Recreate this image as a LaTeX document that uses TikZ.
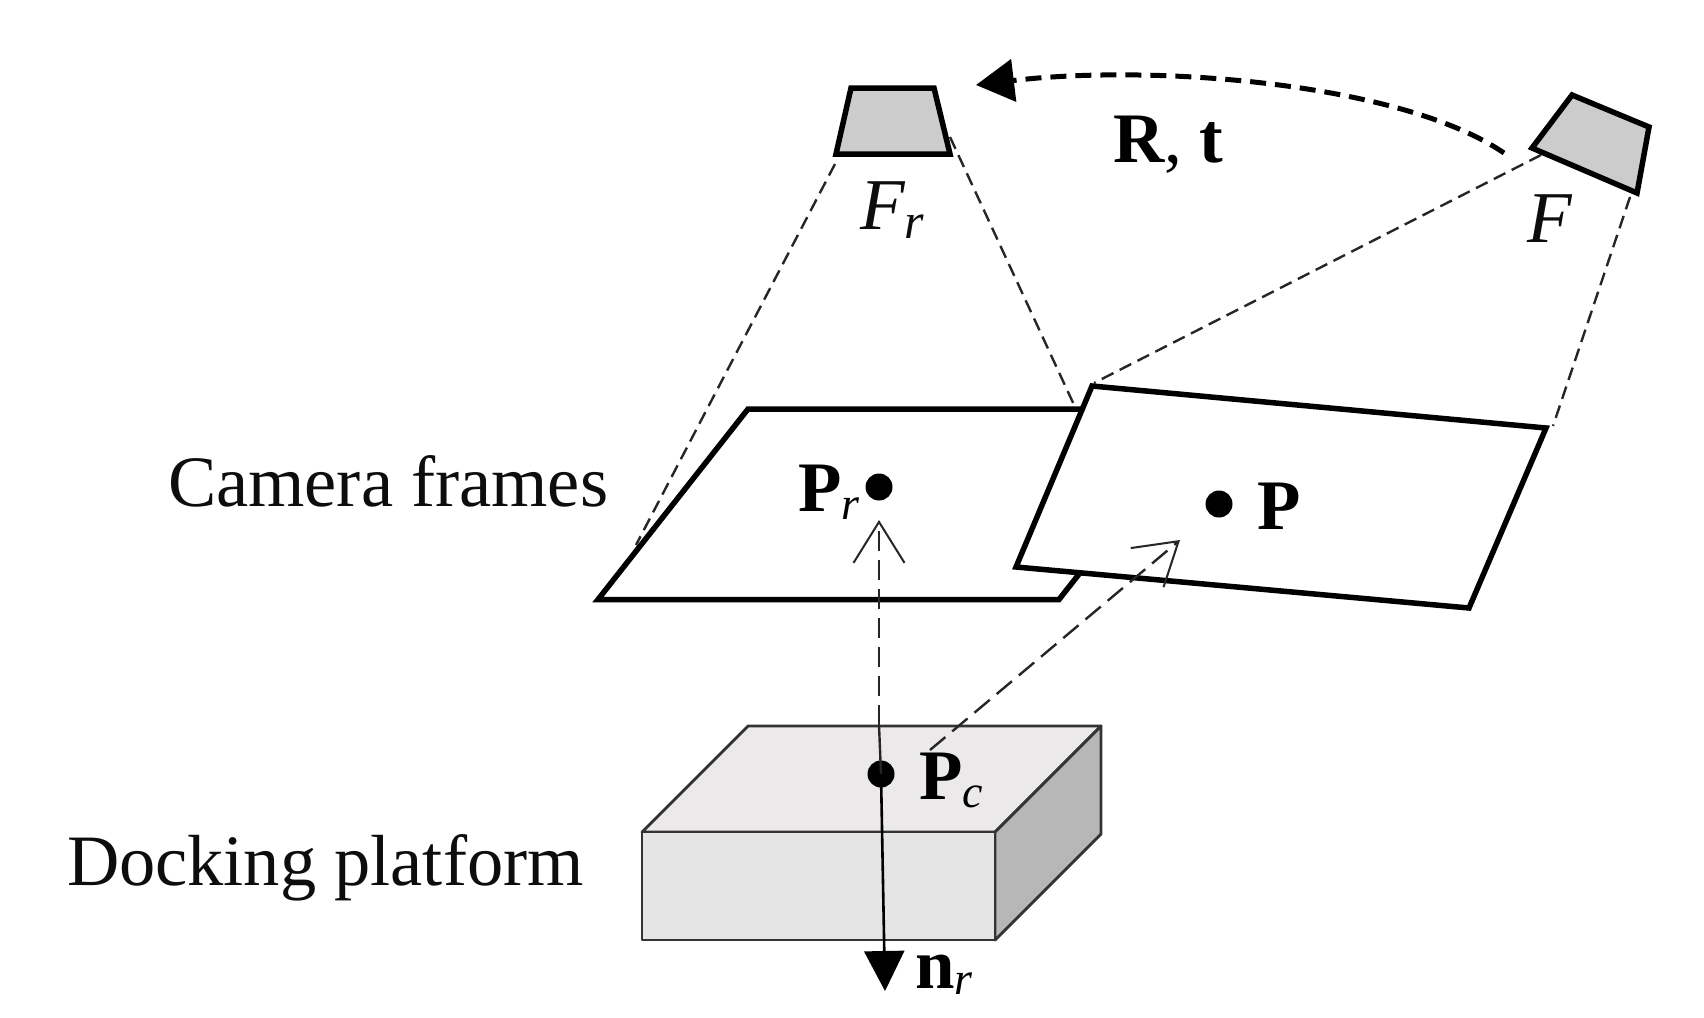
\documentclass[tikz,border=0pt]{standalone}
\usepackage{fontspec}
\setmainfont{Liberation Serif}
\usetikzlibrary{arrows.meta}
\tikzset{
  lbl/.style={anchor=base west,inner sep=0pt,outer sep=0pt,text=black!95,font=\fontsize{72.4}{80}\selectfont},
  bold/.style={anchor=base west,inner sep=0pt,outer sep=0pt,text=black,font=\fontsize{71}{80}\selectfont\bfseries},
  dot/.style={circle,fill=black,draw=none,minimum size=27pt,inner sep=0pt},
  cam/.style={draw=black,line width=5.5pt,fill=camgrey,line join=miter},
  frame/.style={draw=black,line width=5.5pt,fill=white,line join=miter},
  box/.style={draw=black!80,line width=2.8pt,line join=round},
  ray/.style={draw=black!85,line width=2.4pt,dash pattern=on 13pt off 7pt},
  link/.style={draw=black!85,line width=2.4pt,dash pattern=on 20pt off 9pt,-{Straight Barb[length=41pt,width=51pt,line width=2pt]}},
  motion/.style={draw=black,line width=5pt,dash pattern=on 16pt off 9pt,-{Triangle[length=38pt,width=42pt]}},
  normal/.style={draw=black,line width=2.6pt,-{Triangle[length=40pt,width=40pt]}},
}
\definecolor{camgrey}{HTML}{CCCCCC}
\definecolor{boxtop}{HTML}{EBE9E9}
\definecolor{boxfront}{HTML}{E6E5E5}
\definecolor{boxside}{HTML}{B7B7B7}
\newcommand{\subit}[2][-8pt]{\raisebox{#1}{\fontsize{46}{50}\selectfont\mdseries\itshape #2}}
\begin{document}
\begin{tikzpicture}[x=1pt,y=-1pt]
\useasboundingbox (0,0) rectangle (1704,1017);
% free ends
\coordinate (frTL) at (851,88); \coordinate (frTR) at (934,88);
\coordinate (frBR) at (950,154); \coordinate (frBL) at (836,154);
\coordinate (fTL) at (1572,95); \coordinate (fTR) at (1649,127);
\coordinate (fBR) at (1637,193); \coordinate (fBL) at (1532,148);
\coordinate (rayA) at (835,164); \coordinate (rayAe) at (636,545);
\coordinate (rayB) at (950,137); \coordinate (rayBe) at (1075,407);
\coordinate (rayC) at (1541,155); \coordinate (rayCe) at (1094,383);
\coordinate (rayD) at (1630,197); \coordinate (rayDe) at (1553,426);
\coordinate (motA) at (1504,153); \coordinate (motB) at (976,85);
\coordinate (linkA) at (879,725); \coordinate (linkAe) at (879,520);
\coordinate (linkB) at (930,750); \coordinate (linkBe) at (1180,540);
\coordinate (nrTip) at (885,991);
% camera frames
\draw[ray] (rayA) -- (rayAe);
\draw[ray] (rayB) -- (rayBe);
\draw[ray] (rayC) -- (rayCe);
\draw[ray] (rayD) -- (rayDe);
\path[frame] (748,409) -- (1209,409) -- (1059,599.5) -- (598,599.5) -- cycle;
\path[frame] (1092,386) -- (1546,428) -- (1469,608) -- (1016,567) -- cycle;
% cameras
\path[cam] (frTL) -- (frTR) -- (frBR) -- (frBL) -- cycle;
\path[cam] (fTL) -- (fTR) -- (fBR) -- (fBL) -- cycle;
% platform
\path[box,fill=boxtop] (642,832) -- (748,726) -- (1101,726) -- (995,832) -- cycle;
\path[box,fill=boxside] (995,832) -- (1101,726) -- (1101,834) -- (995,940) -- cycle;
\path[box,fill=boxfront] (642,832) -- (995,832) -- (995,940) -- (642,940) -- cycle;
% dots
\node[dot] (pr) at (879,487) {};
\node[dot] (p) at (1219,504) {};
\node[dot] (pc) at (881,774) {};
% connectors
\draw[motion] (motA) .. controls (1400,82) and (1150,64) .. (motB);
\draw[link] (linkA) -- (linkAe);
\draw[link] (linkB) -- (linkBe);
\draw[draw=black!85,line width=2.4pt] (linkA) -- (pc.center);
\draw[normal] (pc.center) -- (nrTip);
% labels
\node[bold] (rt) at (1113,162) {R\mdseries,\bfseries\ t};
\node[lbl,font=\fontsize{73}{80}\selectfont\itshape] (frl) at (860,229) {F\raisebox{-9pt}{\fontsize{50}{50}\selectfont r}};
\node[lbl,font=\fontsize{73}{80}\selectfont\itshape] (fl) at (1527,242) {F};
\node[lbl] (camlab) at (168,506) {Camera frames};
\node[lbl] (doclab) at (67,885) {Docking platform};
\node[bold] (prl) at (798,511) {P\subit{r}};
\node[bold] (pl) at (1257,529) {P};
\node[bold] (pcl) at (919,799) {P\subit{c}};
\node[bold] (nrl) at (915,988) {n\subit[-6pt]{r}};
\end{tikzpicture}
\end{document}
